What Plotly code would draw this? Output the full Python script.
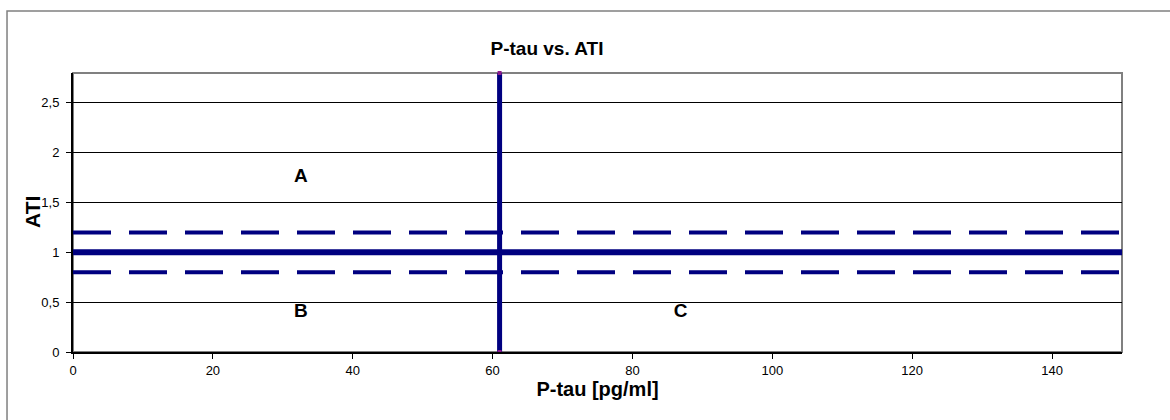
import plotly.graph_objects as go

# Data
x_range = [0, 150]
y_range = [0, 2.8]
cutoff_x = [61, 61]
cutoff_y = [0, 2.8]
line_x = [0, 150]
ati_mid = [1.0, 1.0]
ati_upper = [1.2, 1.2]
ati_lower = [0.8, 0.8]
region_labels = ["A", "B", "C"]
region_x = [32.6, 32.6, 86.9]
region_y = [1.75, 0.40, 0.40]
x_ticks = [0, 20, 40, 60, 80, 100, 120, 140]
y_ticks = [0, 0.5, 1, 1.5, 2, 2.5]

NAVY = "#000080"
FONT = "Liberation Sans, Arial, sans-serif"

fig = go.Figure()

fig.add_trace(go.Scatter(x=line_x, y=ati_upper, mode="lines",
                         line=dict(color=NAVY, width=4, dash="38px,18px"), hoverinfo="skip"))
fig.add_trace(go.Scatter(x=line_x, y=ati_lower, mode="lines",
                         line=dict(color=NAVY, width=4, dash="38px,18px"), hoverinfo="skip"))
fig.add_trace(go.Scatter(x=line_x, y=ati_mid, mode="lines",
                         line=dict(color=NAVY, width=6), hoverinfo="skip"))
fig.add_trace(go.Scatter(x=cutoff_x, y=cutoff_y, mode="lines+markers",
                         line=dict(color=NAVY, width=5),
                         marker=dict(color="#8B1A8B", size=4, symbol="square"),
                         cliponaxis=False, hoverinfo="skip"))
fig.add_trace(go.Scatter(x=region_x, y=region_y, mode="text",
                         text=["<b>%s</b>" % t for t in region_labels],
                         textfont=dict(family=FONT, size=19, color="black"),
                         hoverinfo="skip"))

# outer chart border
fig.add_shape(type="rect", xref="paper", yref="paper",
              x0=-0.0629, x1=1.2, y0=-0.6, y1=1.222,
              line=dict(color="#808080", width=1.5), layer="below")
# plot area border (gray top/right)
fig.add_shape(type="rect", xref="paper", yref="paper",
              x0=0, x1=1, y0=0, y1=1,
              line=dict(color="#808080", width=2), layer="below")

# y-axis title
fig.add_annotation(text="<b>ATI</b>", xref="paper", yref="paper",
                   x=-0.0381, y=0.502, xanchor="center", yanchor="middle",
                   textangle=-90, showarrow=False,
                   font=dict(family=FONT, size=21, color="black"))

fig.update_layout(
    width=1170, height=420,
    margin=dict(l=73, r=48, t=73, b=68),
    paper_bgcolor="white", plot_bgcolor="white",
    showlegend=False,
    separators=",.",
    font=dict(family=FONT, color="black"),
    title=dict(text="<b>P-tau vs. ATI</b>", x=0.4675, xanchor="center",
               y=0.886, yanchor="middle", font=dict(size=19, family=FONT)),
    xaxis=dict(range=x_range, tickvals=x_ticks, ticks="outside", ticklen=5,
               tickcolor="black", showline=True, linecolor="black", linewidth=2,
               showgrid=False, zeroline=False, tickfont=dict(size=13),
               title=dict(text="<b>P-tau [pg/ml]</b>", font=dict(size=20), standoff=2)),
    yaxis=dict(range=y_range, tickvals=y_ticks, ticks="outside", ticklen=5,
               tickcolor="black", showline=True, linecolor="black", linewidth=2,
               showgrid=True, gridcolor="black", gridwidth=1, zeroline=False,
               tickfont=dict(size=13), ticklabelstandoff=4),
)

fig.write_html("out.html")
